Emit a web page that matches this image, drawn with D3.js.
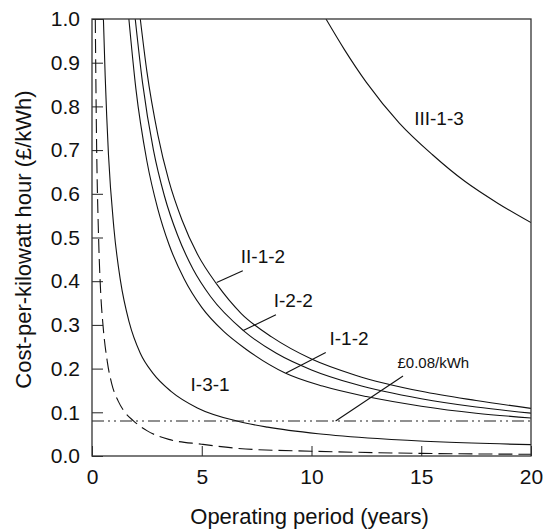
<!DOCTYPE html>
<html>
<head>
<meta charset="utf-8">
<script src="https://cdn.jsdelivr.net/npm/d3@7"></script>
<style>
  body { margin: 0; background: #fff; }
  text { font-family: "Liberation Sans", Arial, sans-serif; fill: #111; }
</style>
</head>
<body>
<svg id="chart" width="549" height="532"></svg>
<script>
"use strict";

// Data (years, £/kWh)
var xTicks = [0, 5, 10, 15, 20];
var yTicks = [0, 0.1, 0.2, 0.3, 0.4, 0.5, 0.6, 0.7, 0.8, 0.9, 1.0];

var yearsDash = [0.15, 0.2, 0.3, 0.4, 0.5, 0.7, 0.9, 1.2, 1.5, 1.9, 2.5, 3.5, 5, 7, 10, 15, 20];
var costDash  = [1.0, 0.75, 0.5, 0.37, 0.3, 0.215, 0.165, 0.125, 0.1, 0.08, 0.058, 0.038, 0.027, 0.016, 0.011, 0.006, 0.004];

var yearsI31 = [0.52, 0.6, 0.75, 1.0, 1.3, 1.7, 2.2, 2.8, 3.6, 4.8, 6.6, 8, 10.3, 13, 16, 20];
var costI31  = [1.0, 0.87, 0.69, 0.52, 0.4, 0.305, 0.235, 0.188, 0.148, 0.11, 0.08, 0.066, 0.051, 0.04, 0.032, 0.026];

var yearsI12 = [1.68, 2, 2.5, 3, 3.5, 4.2, 5, 6, 7, 8.8, 10.5, 12.5, 15, 17.5, 20];
var costI12  = [1.0, 0.84, 0.675, 0.565, 0.485, 0.405, 0.34, 0.285, 0.245, 0.19, 0.16, 0.136, 0.114, 0.098, 0.087];

var yearsI22 = [1.97, 2.3, 2.8, 3.3, 3.9, 4.6, 5.4, 6.9, 8.4, 10, 12, 15, 17.5, 20];
var costI22  = [1.0, 0.855, 0.7, 0.595, 0.505, 0.428, 0.365, 0.287, 0.235, 0.197, 0.164, 0.131, 0.112, 0.098];

var yearsII12 = [2.2, 2.5, 3, 3.5, 4.1, 4.8, 5.7, 6.8, 8.2, 10, 12, 15, 17.5, 20];
var costII12  = [1.0, 0.88, 0.735, 0.63, 0.54, 0.462, 0.392, 0.326, 0.272, 0.222, 0.185, 0.148, 0.127, 0.109];

var yearsIII13 = [10.66, 11.5, 12.5, 14, 15.5, 17, 18.5, 20];
var costIII13  = [1.0, 0.93, 0.855, 0.762, 0.69, 0.628, 0.578, 0.534];

var targetCost = 0.08;

// label name, centre (years, cost), leader start and end (years, cost)
var labelNames = ["III-1-3", "II-1-2", "I-2-2", "I-1-2", "I-3-1", "£0.08/kWh"];
var labelAt = [[15.81, 0.773], [7.79, 0.456], [9.17, 0.355], [11.71, 0.268], [5.38, 0.1625], [15.55, 0.2135]];
var leaders = [null, [[6.87, 0.424], [5.68, 0.397]], [[8.38, 0.323], [6.89, 0.287]],
               [[10.65, 0.237], [8.84, 0.19]], null, [[14.17, 0.183], [11.1, 0.08]]];

window.onload = function() {
  var svg = d3.select("#chart");
  var left = 92, top = 19, w = 439, h = 437;

  var x = d3.scaleLinear().domain([0, 20]).range([left, left + w]);
  var y = d3.scaleLinear().domain([0, 1]).range([top + h, top]);

  svg.append("clipPath").attr("id", "clip")
     .append("rect").attr("x", left).attr("y", top).attr("width", w).attr("height", h);

  // axes, ticks pointing inward
  var yAxis = svg.append("g").attr("transform", "translate(" + left + ",0)")
     .call(d3.axisLeft(y).tickValues(yTicks).tickFormat(d3.format(".1f"))
           .tickSizeInner(-11).tickSizeOuter(0).tickPadding(12));
  var xAxis = svg.append("g").attr("transform", "translate(0," + (top + h) + ")")
     .call(d3.axisBottom(x).tickValues(xTicks).tickFormat(d3.format("d"))
           .tickSizeInner(-10).tickSizeOuter(0).tickPadding(13));
  [yAxis, xAxis].forEach(function(a) {
    a.select(".domain").remove();
    a.selectAll("line").attr("stroke", "#222");
    a.selectAll("text").style("font-size", "21px").attr("fill", "#111");
  });

  var line = d3.line().x(function(d) { return x(d[0]); })
                      .y(function(d) { return y(d[1]); })
                      .curve(d3.curveMonotoneX);

  var plot = svg.append("g").attr("clip-path", "url(#clip)");

  var solid = [[yearsI31, costI31], [yearsI12, costI12], [yearsI22, costI22],
               [yearsII12, costII12], [yearsIII13, costIII13]];
  solid.forEach(function(s) {
    plot.append("path").datum(d3.zip(s[0], s[1]))
        .attr("d", line).attr("fill", "none").attr("stroke", "#111").attr("stroke-width", 1.1);
  });

  plot.append("path").datum(d3.zip(yearsDash, costDash))
      .attr("d", line).attr("fill", "none").attr("stroke", "#111")
      .attr("stroke-width", 1.1).attr("stroke-dasharray", "14,6");

  plot.append("line")
      .attr("x1", x(0)).attr("x2", x(20))
      .attr("y1", y(targetCost)).attr("y2", y(targetCost))
      .attr("stroke", "#222").attr("stroke-width", 1.1)
      .attr("stroke-dasharray", "12,4,2,4,2,4");

  // frame
  svg.append("rect").attr("x", left).attr("y", top).attr("width", w).attr("height", h)
     .attr("fill", "none").attr("stroke", "#333").attr("stroke-width", 1.3);

  // labels and leaders
  for (let i = 0; i < labelNames.length; i++) {
    if (leaders[i]) {
      svg.append("line")
         .attr("x1", x(leaders[i][0][0])).attr("y1", y(leaders[i][0][1]))
         .attr("x2", x(leaders[i][1][0])).attr("y2", y(leaders[i][1][1]))
         .attr("stroke", "#111").attr("stroke-width", 1.1);
    }
    svg.append("text")
       .attr("x", x(labelAt[i][0])).attr("y", y(labelAt[i][1]))
       .attr("text-anchor", "middle").attr("dominant-baseline", "central")
       .style("font-size", i === 5 ? "15px" : "19px")
       .text(labelNames[i]);
  }

  // axis titles
  svg.append("text").attr("x", left + w / 2 - 2).attr("y", 524)
     .attr("text-anchor", "middle").style("font-size", "22px")
     .text("Operating period (years)");
  svg.append("text")
     .attr("transform", "translate(31," + (top + h / 2 + 2) + ") rotate(-90)")
     .attr("text-anchor", "middle").style("font-size", "22px")
     .text("Cost-per-kilowatt hour (£/kWh)");
};
</script>
</body>
</html>
